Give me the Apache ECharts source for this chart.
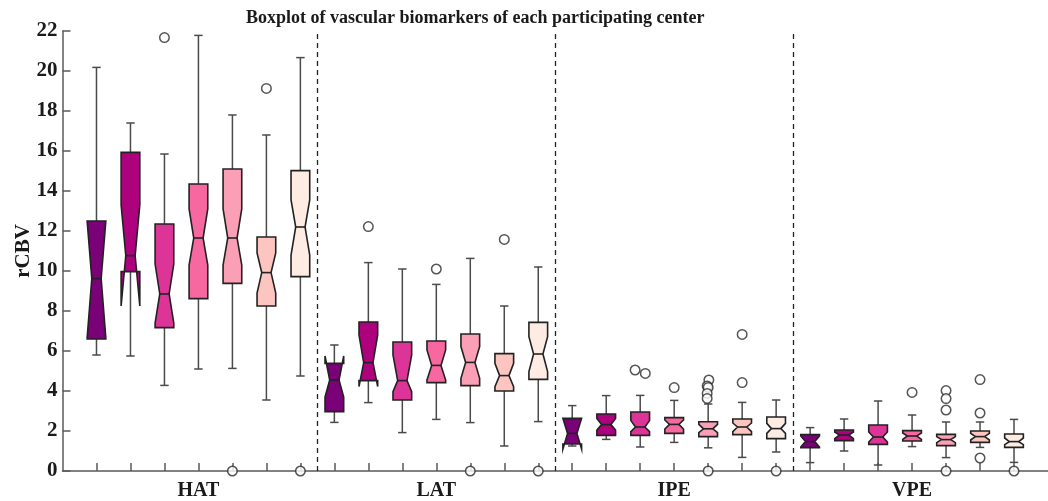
<!DOCTYPE html>
<html>
<head>
<meta charset="utf-8">
<script src="https://cdn.jsdelivr.net/npm/echarts@6/dist/echarts.min.js"></script>
<style>html,body{margin:0;padding:0;background:#fff;}#chart{width:1048px;height:501px;}</style>
</head>
<body>
<div id="chart"></div>
<script>
// groups (x-axis labels) and centers
const groups = ['HAT', 'LAT', 'IPE', 'VPE'];
const centerColors = ['#7a0177', '#ae017e', '#dd3497', '#f768a1', '#fa9fb5', '#fcc5c0', '#feebe2'];
const yTicks = [0, 2, 4, 6, 8, 10, 12, 14, 16, 18, 20, 22];

// box stats per center: [min, q1, notchLow, median, notchHigh, q3, max]
const hatStats = [
  [5.8, 6.6, 6.65, 9.62, 12.5, 12.5, 20.18],
  [5.75, 9.97, 8.25, 10.77, 13.3, 15.93, 17.4],
  [4.28, 7.17, 7.4, 8.85, 10.35, 12.35, 15.85],
  [5.1, 8.62, 10.3, 11.65, 13.1, 14.35, 21.78],
  [5.13, 9.38, 10.3, 11.65, 13.1, 15.1, 17.8],
  [3.55, 8.25, 8.9, 9.92, 10.9, 11.7, 16.8],
  [4.75, 9.72, 10.8, 12.2, 13.55, 15.02, 20.67]
];
const latStats = [
  [2.43, 2.97, 3.7, 4.55, 5.75, 5.38, 6.3],
  [3.42, 4.52, 4.22, 5.42, 6.8, 7.45, 10.42],
  [1.92, 3.55, 3.97, 4.52, 5.8, 6.45, 10.1],
  [2.58, 4.42, 4.55, 5.28, 6.05, 6.5, 9.33],
  [2.42, 4.27, 4.63, 5.43, 6.22, 6.85, 10.63],
  [1.25, 4.0, 4.22, 4.77, 5.38, 5.87, 8.25],
  [2.47, 4.58, 4.97, 5.85, 6.72, 7.43, 10.2]
];
const ipeStats = [
  [1.25, 1.35, 1.1, 1.88, 2.63, 2.63, 3.27],
  [1.58, 1.78, 2.05, 2.32, 2.63, 2.85, 3.77],
  [1.2, 1.78, 1.97, 2.2, 2.52, 2.95, 3.78],
  [1.43, 1.88, 2.1, 2.33, 2.55, 2.67, 3.53],
  [1.16, 1.72, 1.92, 2.11, 2.33, 2.46, 3.35],
  [0.68, 1.82, 1.97, 2.2, 2.4, 2.6, 3.43],
  [0.95, 1.62, 1.88, 2.12, 2.38, 2.7, 3.55]
];
const vpeStats = [
  [0.42, 1.17, 1.2, 1.47, 1.75, 1.82, 2.17],
  [1.0, 1.52, 1.62, 1.8, 1.95, 2.05, 2.6],
  [0.3, 1.33, 1.45, 1.7, 1.95, 2.3, 3.5],
  [1.22, 1.5, 1.58, 1.75, 1.9, 2.02, 2.8],
  [0.67, 1.27, 1.42, 1.57, 1.72, 1.83, 2.45],
  [1.18, 1.43, 1.55, 1.72, 1.88, 2.0, 2.45],
  [0.43, 1.18, 1.32, 1.47, 1.65, 1.85, 2.58]
];
// outliers: [box position (1..28), value]
const outliers = [
  [3, 21.67], [5, 0], [6, 19.13], [7, 0],
  [9, 12.22], [11, 10.1], [12, 0], [13, 11.58], [14, 0],
  [16.85, 5.05], [17.15, 4.88], [18, 4.17],
  [19.02, 4.55], [18.97, 4.25], [19.0, 4.18], [18.97, 3.88], [18.97, 3.63], [19, 0],
  [20, 6.83], [20, 4.42], [21, 0],
  [25, 3.93], [26, 4.02], [26, 3.62], [26, 3.05], [26, 0],
  [27, 4.57], [27, 2.9], [27, 0.65], [28, 0]
];

const allStats = [hatStats, latStats, ipeStats, vpeStats];
const nCenters = centerColors.length;
const FONT = 'Liberation Serif';

function makeRender(color) {
  return function (params, api) {
    const x = api.value(0);
    const mn = api.value(1), q1 = api.value(2), nLo = api.value(3), md = api.value(4),
          nHi = api.value(5), q3 = api.value(6), mx = api.value(7);
    const cx = api.coord([x, 0])[0];
    const y = v => api.coord([x, v])[1];
    const half = api.size([1, 0])[0] * 0.275;
    const d = half * 0.5;
    const L = cx - half, R = cx + half;
    const cap = half * 0.45;
    const wStyle = { stroke: '#4a4a4a', lineWidth: 1.5 };
    const pts = [[L, y(q1)], [L, y(nLo)], [L + d, y(md)], [L, y(nHi)], [L, y(q3)],
                 [R, y(q3)], [R, y(nHi)], [R - d, y(md)], [R, y(nLo)], [R, y(q1)]];
    return {
      type: 'group',
      children: [
        { type: 'line', shape: { x1: cx, y1: y(q3), x2: cx, y2: y(mx) }, style: wStyle },
        { type: 'line', shape: { x1: cx, y1: y(q1), x2: cx, y2: y(mn) }, style: wStyle },
        { type: 'line', shape: { x1: cx - cap, y1: y(mx), x2: cx + cap, y2: y(mx) }, style: wStyle },
        { type: 'line', shape: { x1: cx - cap, y1: y(mn), x2: cx + cap, y2: y(mn) }, style: wStyle },
        { type: 'polygon', shape: { points: pts }, style: { fill: color, stroke: '#222', lineWidth: 1.6, lineJoin: 'miter' } },
        { type: 'line', shape: { x1: L + d, y1: y(md), x2: R - d, y2: y(md) }, style: { stroke: '#222', lineWidth: 1.6 } }
      ]
    };
  };
}

const series = [];
for (let k = 0; k < nCenters; k++) {
  const data = allStats.map((st, g) => [g * nCenters + k + 1].concat(st[k]));
  series.push({
    type: 'custom',
    name: 'center' + (k + 1),
    renderItem: makeRender(centerColors[k]),
    encode: { x: 0, y: [1, 2, 3, 4, 5, 6, 7] },
    data: data,
    clip: false,
    z: 3
  });
}
series.push({
  type: 'scatter',
  data: outliers,
  symbol: 'circle',
  symbolSize: 9.5,
  itemStyle: { color: '#ffffff', borderColor: '#2b2b2b', borderWidth: 1.5 },
  clip: false,
  z: 5,
  markLine: {
    silent: true,
    symbol: 'none',
    label: { show: false },
    lineStyle: { type: [5, 4], color: '#222', width: 1.3 },
    data: [1, 2, 3].map(i => ({ xAxis: i * nCenters + 0.5 }))
  }
});

const totalBoxes = groups.length * nCenters;
const tickVals = [];
for (let i = 1; i <= totalBoxes; i++) tickVals.push(i);
const labelVals = groups.map((g, i) => i * nCenters + (nCenters + 1) / 2);

const chart = echarts.init(document.getElementById('chart'), null, { renderer: 'canvas' });
chart.setOption({
  animation: false,
  backgroundColor: '#ffffff',
  title: {
    text: 'Boxplot of vascular biomarkers of each participating center',
    left: 241, top: 4,
    textStyle: { fontFamily: FONT, fontWeight: 'bold', fontSize: 18, color: '#1a1a1a' }
  },
  grid: { left: 62.5, top: 31, width: 34.09 * (totalBoxes + 1), bottom: 30, containLabel: false },
  xAxis: {
    type: 'value', min: 0, max: totalBoxes + 1,
    splitLine: { show: false },
    axisLine: { lineStyle: { color: '#5a5a5a', width: 1.5 } },
    axisTick: { show: true, inside: true, length: 8, customValues: tickVals, lineStyle: { color: '#5a5a5a', width: 1.5 } },
    axisLabel: {
      customValues: labelVals,
      formatter: v => groups[Math.round((v - (nCenters + 1) / 2) / nCenters)],
      fontFamily: FONT, fontWeight: 'bold', fontSize: 20, color: '#1a1a1a', margin: 10
    }
  },
  yAxis: {
    type: 'value', min: yTicks[0], max: yTicks[yTicks.length - 1], interval: 2,
    name: 'rCBV', nameLocation: 'middle', nameGap: 28, nameMoveOverlap: false,
    nameTextStyle: { fontFamily: FONT, fontWeight: 'bold', fontSize: 21, color: '#1a1a1a' },
    splitLine: { show: false },
    axisLine: { show: true, lineStyle: { color: '#5a5a5a', width: 1.5 } },
    axisTick: { show: true, inside: true, length: 8, lineStyle: { color: '#5a5a5a', width: 1.5 } },
    axisLabel: { fontFamily: FONT, fontWeight: 'bold', fontSize: 21, color: '#1a1a1a', margin: 5 }
  },
  series: series
});
</script>
</body>
</html>
